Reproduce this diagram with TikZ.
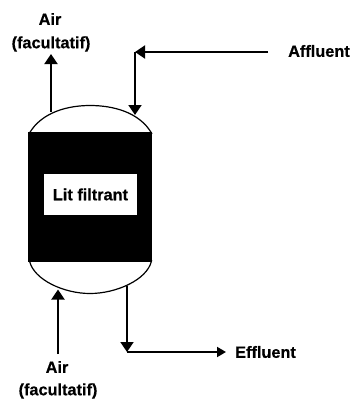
\documentclass[tikz,border=0pt]{standalone}
\usepackage{fontspec}
\setmainfont[BoldFeatures={FakeBold=0.6}]{Liberation Sans}
\usetikzlibrary{arrows.meta}
\tikzset{
  x=1pt,y=-1pt,
  lbl/.style={font=\bfseries\fontsize{16.3}{18}\selectfont,inner sep=0pt,text=black},
  bed/.style={fill=black,draw=none},
  dome/.style={draw=black,line width=1.2pt,fill=white},
  pipe/.style={draw=black,line width=1.9pt},
  flow/.style={pipe,-{Triangle[length=10pt,width=13pt]}},
  flowsm/.style={pipe,-{Triangle[length=9pt,width=10pt]}}
}
\begin{document}
\begin{tikzpicture}
\useasboundingbox (0,0) rectangle (354,400);
\draw[dome] (29.5,133) .. controls (42,112) and (68,105.5) .. (90,105.5) .. controls (113,105.5) and (139,112) .. (151.5,133) -- cycle;
\draw[dome] (29.5,261) .. controls (34,280) and (64,293.5) .. (90,293.5) .. controls (116,293.5) and (147,280) .. (151.5,261) -- cycle;
\node[bed,minimum width=124pt,minimum height=130pt,inner sep=0pt,anchor=north west] (vessel) at (28,132) {};
\node[fill=white,minimum width=92.5pt,minimum height=40.5pt,inner sep=0pt,anchor=north west,lbl] (lit) at (44,174) {Lit filtrant};
\node[lbl] (airtop1) at (50,19) {Air};
\node[lbl] (airtop2) at (51,44) {(facultatif)};
\node[lbl,anchor=west] (affluent) at (288,51) {Affluent};
\node[lbl] (airbot1) at (57,367) {Air};
\node[lbl] (airbot2) at (58,391) {(facultatif)};
\node[lbl,anchor=west] (effluent) at (235,352) {Effluent};
\coordinate (topout) at (51,112);
\coordinate (topend) at (51,54);
\coordinate (affstart) at (268,52);
\coordinate (affcorner) at (135,52);
\coordinate (affend) at (135,115);
\coordinate (botin) at (58,289.5);
\coordinate (botstart) at (58,354);
\coordinate (effstart) at (127,286);
\coordinate (effcorner) at (127,352);
\coordinate (effend) at (226,352);
\draw[flow] (topout) -- (topend);
\draw[flow] (affstart) -- (affcorner);
\draw[flow] (affcorner) -- (affend);
\draw[flow] (botstart) -- (botin);
\draw[flow] (effstart) -- (effcorner);
\draw[flowsm] (effcorner) -- (effend);
\end{tikzpicture}
\end{document}
